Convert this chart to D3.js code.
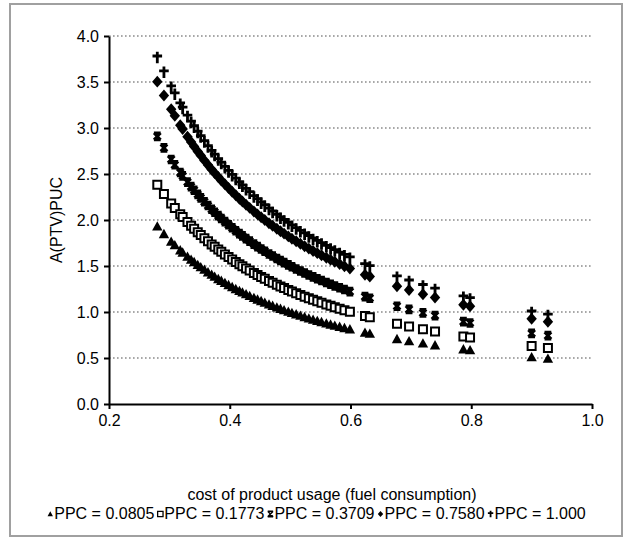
<!DOCTYPE html>
<html>
<head>
<meta charset="utf-8">
<script src="https://cdnjs.cloudflare.com/ajax/libs/d3/7.8.5/d3.min.js"></script>
<style>
  body { margin: 0; background: #fff; }
  svg text { font-family: "Liberation Sans", Arial, sans-serif; fill: #000; }
</style>
</head>
<body>
<div id="chart"></div>
<script>
// x values (cost of product usage)
const xVals = [0.280, 0.291, 0.303, 0.309, 0.318, 0.322, 0.330, 0.336, 0.341, 0.347,
  0.352, 0.358, 0.364, 0.370, 0.375, 0.381, 0.386, 0.392, 0.398, 0.404,
  0.410, 0.416, 0.421, 0.427, 0.433, 0.440, 0.446, 0.452, 0.458, 0.465,
  0.471, 0.478, 0.484, 0.490, 0.497, 0.503, 0.510, 0.517, 0.524, 0.531,
  0.538, 0.545, 0.552, 0.560, 0.567, 0.574, 0.582, 0.590, 0.599, 0.624,
  0.632, 0.677, 0.697, 0.720, 0.740, 0.787, 0.798, 0.900, 0.927];

const ppc0805 = [1.931, 1.848, 1.765, 1.726, 1.671, 1.647, 1.601, 1.569, 1.543, 1.512,
  1.488, 1.460, 1.432, 1.406, 1.384, 1.359, 1.339, 1.316, 1.293, 1.272,
  1.250, 1.230, 1.213, 1.194, 1.175, 1.154, 1.136, 1.119, 1.102, 1.083,
  1.068, 1.050, 1.035, 1.020, 1.004, 0.990, 0.975, 0.960, 0.945, 0.931,
  0.917, 0.904, 0.891, 0.876, 0.864, 0.852, 0.839, 0.826, 0.812, 0.775,
  0.764, 0.706, 0.683, 0.658, 0.638, 0.595, 0.585, 0.510, 0.493];

const ppc1773 = [2.384, 2.282, 2.179, 2.131, 2.062, 2.033, 1.977, 1.937, 1.904, 1.867,
  1.837, 1.802, 1.768, 1.735, 1.709, 1.678, 1.654, 1.625, 1.597, 1.570,
  1.544, 1.518, 1.498, 1.474, 1.450, 1.424, 1.402, 1.381, 1.361, 1.337,
  1.318, 1.296, 1.278, 1.260, 1.240, 1.223, 1.204, 1.185, 1.167, 1.149,
  1.132, 1.116, 1.100, 1.082, 1.067, 1.052, 1.035, 1.019, 1.002, 0.956,
  0.943, 0.871, 0.843, 0.812, 0.787, 0.734, 0.722, 0.630, 0.609];

const ppc3709 = [2.909, 2.784, 2.658, 2.600, 2.516, 2.480, 2.412, 2.363, 2.323, 2.278,
  2.241, 2.198, 2.157, 2.117, 2.085, 2.048, 2.017, 1.982, 1.948, 1.915,
  1.883, 1.852, 1.827, 1.798, 1.770, 1.738, 1.711, 1.685, 1.660, 1.631,
  1.608, 1.581, 1.559, 1.537, 1.512, 1.492, 1.468, 1.446, 1.424, 1.402,
  1.382, 1.361, 1.342, 1.320, 1.301, 1.283, 1.263, 1.244, 1.222, 1.167,
  1.150, 1.063, 1.028, 0.991, 0.961, 0.895, 0.881, 0.768, 0.743];

const ppc7580 = [3.504, 3.354, 3.203, 3.132, 3.031, 2.988, 2.906, 2.847, 2.799, 2.744,
  2.700, 2.648, 2.598, 2.550, 2.512, 2.467, 2.430, 2.388, 2.347, 2.307,
  2.269, 2.231, 2.201, 2.166, 2.132, 2.093, 2.061, 2.030, 2.000, 1.965,
  1.937, 1.905, 1.878, 1.852, 1.822, 1.797, 1.769, 1.742, 1.715, 1.689,
  1.664, 1.640, 1.616, 1.590, 1.568, 1.546, 1.522, 1.498, 1.473, 1.405,
  1.385, 1.281, 1.239, 1.194, 1.157, 1.079, 1.062, 0.926, 0.895];

const ppc1000 = [3.767, 3.605, 3.443, 3.367, 3.258, 3.212, 3.124, 3.060, 3.009, 2.950,
  2.902, 2.847, 2.793, 2.742, 2.700, 2.652, 2.613, 2.567, 2.523, 2.480,
  2.439, 2.399, 2.366, 2.328, 2.292, 2.250, 2.216, 2.182, 2.150, 2.113,
  2.082, 2.047, 2.019, 1.990, 1.958, 1.932, 1.902, 1.872, 1.844, 1.816,
  1.789, 1.763, 1.738, 1.709, 1.685, 1.662, 1.636, 1.611, 1.583, 1.511,
  1.489, 1.377, 1.332, 1.283, 1.244, 1.160, 1.141, 0.995, 0.962];

const seriesNames = ["PPC = 0.0805", "PPC = 0.1773", "PPC = 0.3709", "PPC = 0.7580", "PPC = 1.000"];
const seriesShapes = ["triangle", "square", "xmark", "diamond", "plus"];
const xTicks = [0.2, 0.4, 0.6, 0.8, 1.0];
const yTicks = [0.0, 0.5, 1.0, 1.5, 2.0, 2.5, 3.0, 3.5, 4.0];

const seriesData = [ppc0805, ppc1773, ppc3709, ppc7580, ppc1000];

const width = 632, height = 544;
const margin = {left: 109, right: 40, top: 36, bottom: 140};
const fontSize = "16px";

const svg = d3.select("#chart").append("svg")
  .attr("width", width)
  .attr("height", height);

// outer frame
svg.append("rect")
  .attr("x", 10).attr("y", 4)
  .attr("width", 612).attr("height", 532)
  .attr("fill", "#fff")
  .attr("stroke", "#a0a0a0")
  .attr("stroke-width", 2);

const x = d3.scaleLinear().domain([0.2, 1.0]).range([margin.left, width - margin.right]);
const y = d3.scaleLinear().domain([0, 4]).range([height - margin.bottom, margin.top]);

// gridlines
svg.append("g")
  .selectAll("line")
  .data(yTicks.filter(d => d > 0))
  .enter()
  .append("line")
  .attr("x1", x(0.2)).attr("x2", x(1.0))
  .attr("y1", d => y(d)).attr("y2", d => y(d))
  .attr("stroke", "#8c8c8c")
  .attr("stroke-width", 1.6)
  .attr("stroke-dasharray", "1.6,2.4");

// marker path builder (s = half size in px)
function markerPath(shape, s) {
  const p = d3.path();
  if (shape === "triangle") {
    p.moveTo(0, -s); p.lineTo(s, s * 0.8); p.lineTo(-s, s * 0.8); p.closePath();
  } else if (shape === "square") {
    p.rect(-s, -s, 2 * s, 2 * s);
  } else if (shape === "diamond") {
    p.moveTo(0, -s * 1.15); p.lineTo(s, 0); p.lineTo(0, s * 1.15); p.lineTo(-s, 0); p.closePath();
  } else if (shape === "xmark") {
    p.moveTo(-s, -s); p.lineTo(s, s);
    p.moveTo(s, -s); p.lineTo(-s, s);
    p.moveTo(-s, -s); p.lineTo(s, -s);
    p.moveTo(-s, s); p.lineTo(s, s);
  } else if (shape === "plus") {
    p.moveTo(0, -s * 1.2); p.lineTo(0, s * 1.2);
    p.moveTo(-s, -s * 0.3); p.lineTo(s, -s * 0.3);
  }
  return p.toString();
}

function styleMarker(sel, shape, big) {
  if (shape === "square") {
    sel.attr("fill", "#fff").attr("stroke", "#000").attr("stroke-width", big ? 2 : 1.3);
  } else if (shape === "xmark") {
    sel.attr("fill", "none").attr("stroke", "#000").attr("stroke-width", big ? 2.8 : 1.5);
  } else if (shape === "plus") {
    sel.attr("fill", "none").attr("stroke", "#000").attr("stroke-width", big ? 2.8 : 1.8);
  } else {
    sel.attr("fill", "#000").attr("stroke", "none");
  }
}

const markerSize = {triangle: 5.2, square: 4, xmark: 3.4, diamond: 5.2, plus: 4.8};

seriesData.forEach(function(vals, i) {
  const shape = seriesShapes[i];
  const pts = xVals.map((xv, j) => ({x: xv, y: vals[j]}));
  const g = svg.append("g");
  const m = g.selectAll("path")
    .data(pts)
    .enter()
    .append("path")
    .attr("transform", d => "translate(" + x(d.x) + "," + y(d.y) + ")")
    .attr("d", markerPath(shape, markerSize[shape]));
  styleMarker(m, shape, true);
});

// axes
const yAxis = svg.append("g")
  .attr("transform", "translate(" + x(0.2) + ",0)")
  .call(d3.axisLeft(y).tickValues(yTicks).tickFormat(d3.format(".1f")).tickSize(5).tickSizeOuter(0).tickPadding(5));
const xAxis = svg.append("g")
  .attr("transform", "translate(0," + y(0) + ")")
  .call(d3.axisBottom(x).tickValues(xTicks).tickFormat(d3.format(".1f")).tickSize(5).tickSizeOuter(0).tickPadding(6));

[yAxis, xAxis].forEach(function(a) {
  a.select(".domain").attr("stroke", "#000").attr("stroke-width", 2);
  a.selectAll(".tick line").attr("stroke", "#000").attr("stroke-width", 2);
  a.selectAll("text").style("font-size", fontSize).attr("fill", "#000");
});

// axis titles
svg.append("text")
  .attr("transform", "translate(62," + ((y(0) + y(4)) / 2) + ") rotate(-90)")
  .attr("text-anchor", "middle")
  .style("font-size", fontSize)
  .text("A(PTV)PUC");

svg.append("text")
  .attr("x", 332).attr("y", 500)
  .attr("text-anchor", "middle")
  .style("font-size", fontSize)
  .text("cost of product usage (fuel consumption)");

// legend
const legend = svg.append("g");
let lx = 0;
seriesNames.forEach(function(name, i) {
  const shape = seriesShapes[i];
  const m = legend.append("path")
    .attr("transform", "translate(" + (lx + 3) + ",-5)")
    .attr("d", markerPath(shape, 2.7));
  styleMarker(m, shape, false);
  const t = legend.append("text")
    .attr("x", lx + 7).attr("y", 0)
    .style("font-size", fontSize)
    .text(name);
  lx += 7 + t.node().getComputedTextLength() + 3;
});
legend.attr("transform", "translate(" + (318 - lx / 2) + ",519)");
</script>
</body>
</html>
